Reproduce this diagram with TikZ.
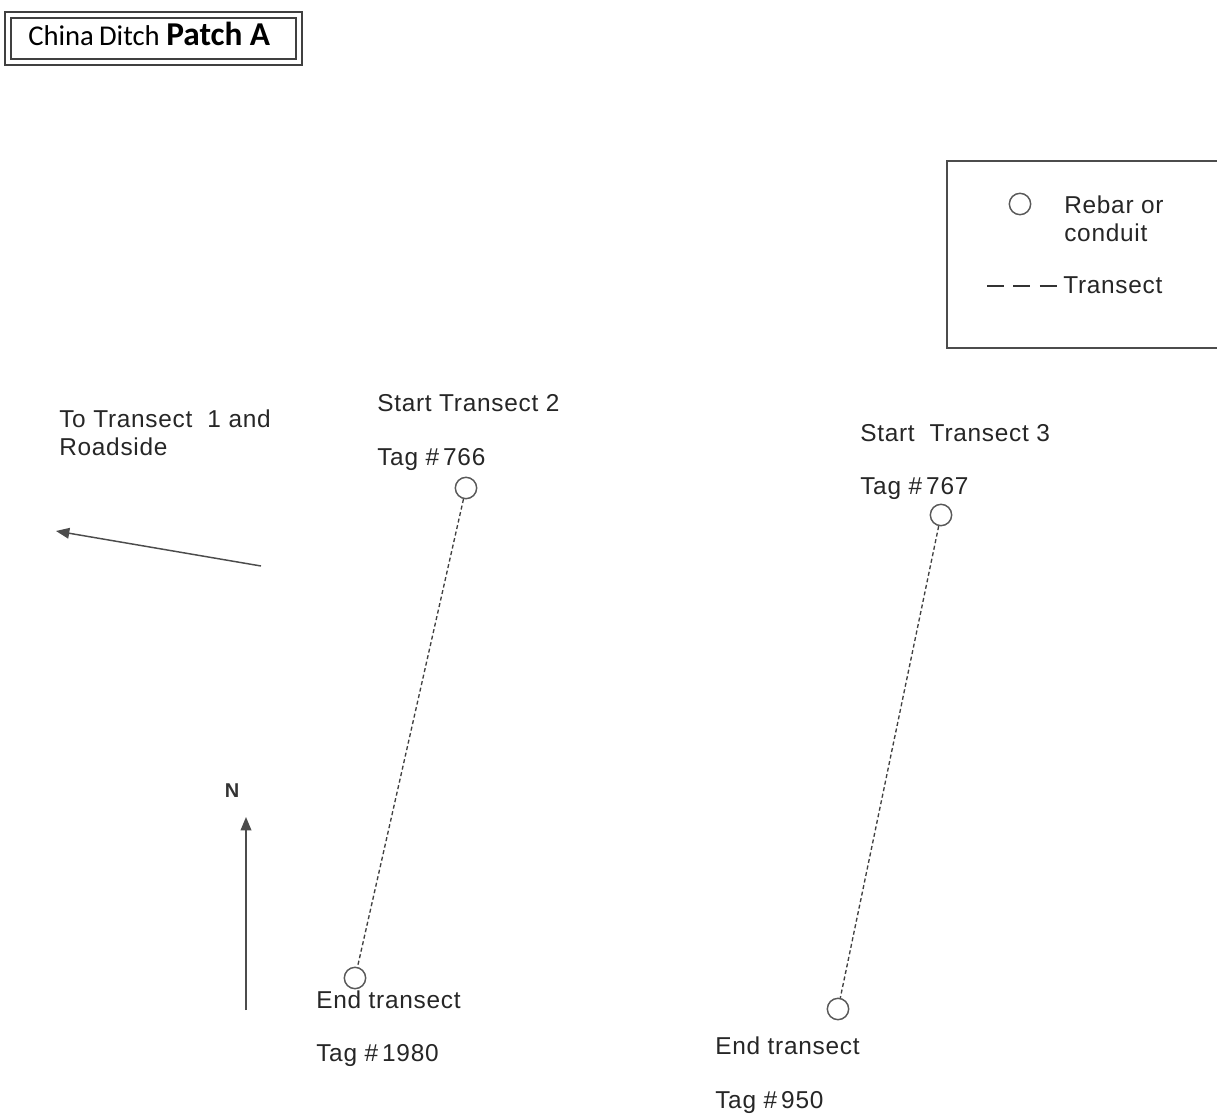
\documentclass[tikz,border=0pt]{standalone}
\usepackage{fontspec}
\setmainfont{Liberation Sans}[LetterSpace=3]
\newfontfamily\titlefont{Carlito}
\usetikzlibrary{arrows.meta}
\begin{document}
\begin{tikzpicture}[x=0.75pt,y=-0.75pt,
  lbl/.style={anchor=base west,inner sep=0pt,font=\fontsize{18.3}{21}\selectfont,text=black!85},
  marker/.style={circle,draw=black!65,line width=1.1pt,minimum size=16pt,inner sep=0pt},
  transect/.style={draw=black!75,line width=1pt,dash pattern=on 3pt off 2pt},
  pointer/.style={draw=black!70,line width=1.1pt,-{Triangle[length=10pt,width=8pt]}}]
\useasboundingbox (0,0) rectangle (1217,1116);
\clip (0,0) rectangle (1217,1116);
\fill[white] (0,0) rectangle (1217,1116);

% title box with double frame
\draw[black!75,line width=1.6pt] (5,12) rectangle (302,65);
\draw[black!75,line width=1.2pt] (11,18) rectangle (296,59);
\node[anchor=base west,inner sep=0pt] (title) at (28,46)
  {\titlefont\fontsize{21.5}{24}\selectfont China\kern-1pt\ Ditch\ \fontsize{25}{28}\selectfont\bfseries Patch A};

% legend
\draw[black!70,line width=1.1pt] (947,161) rectangle (1230,348);
\node[marker] (legcirc) at (1020,204) {};
\node[lbl] (legrebar) at (1064,214) {Rebar or};
\node[lbl] (legconduit) at (1064,242) {conduit};
\coordinate (legdashA) at (987,286);
\coordinate (legdashB) at (1058,286);
\draw[draw=black!80,line width=1.8pt,dash pattern=on 12.75pt off 7.1pt] (legdashA) -- (legdashB);
\node[lbl] (legtransect) at (1063,294) {Transect};

% direction to transect 1
\node[lbl] (totr) at (59,427) {To Transect\ \ 1 and};
\node[lbl] (road) at (59,455) {Roadside};
\coordinate (dirfrom) at (261,566);
\coordinate (dirto) at (56,531);
\draw[pointer] (dirfrom) -- (dirto);

% north arrow
\node[anchor=base,inner sep=0pt,font=\fontsize{15}{17}\selectfont\bfseries,text=black!80] (north) at (232,797) {N};
\coordinate (nfrom) at (246,1010);
\coordinate (nto) at (246,817);
\draw[pointer] (nfrom) -- (nto);

% transect 2
\node[lbl] (st2) at (377,411) {Start Transect 2};
\node[lbl] (tag766) at (377,465) {Tag \#\,766};
\node[marker] (c766) at (466,488) {};
\node[marker] (c1980) at (355,978) {};
\draw[transect] (c766) -- (c1980);
\node[lbl] (end2) at (316,1008) {End transect};
\node[lbl] (tag1980) at (316,1061) {Tag \#\,1980};

% transect 3
\node[lbl] (st3) at (860,441) {Start\ \ Transect 3};
\node[lbl] (tag767) at (860,494) {Tag \#\,767};
\node[marker] (c767) at (941,515) {};
\node[marker] (c950) at (838,1009) {};
\draw[transect] (c767) -- (c950);
\node[lbl] (end3) at (715,1054) {End transect};
\node[lbl] (tag950) at (715,1108) {Tag \#\,950};
\end{tikzpicture}
\end{document}
